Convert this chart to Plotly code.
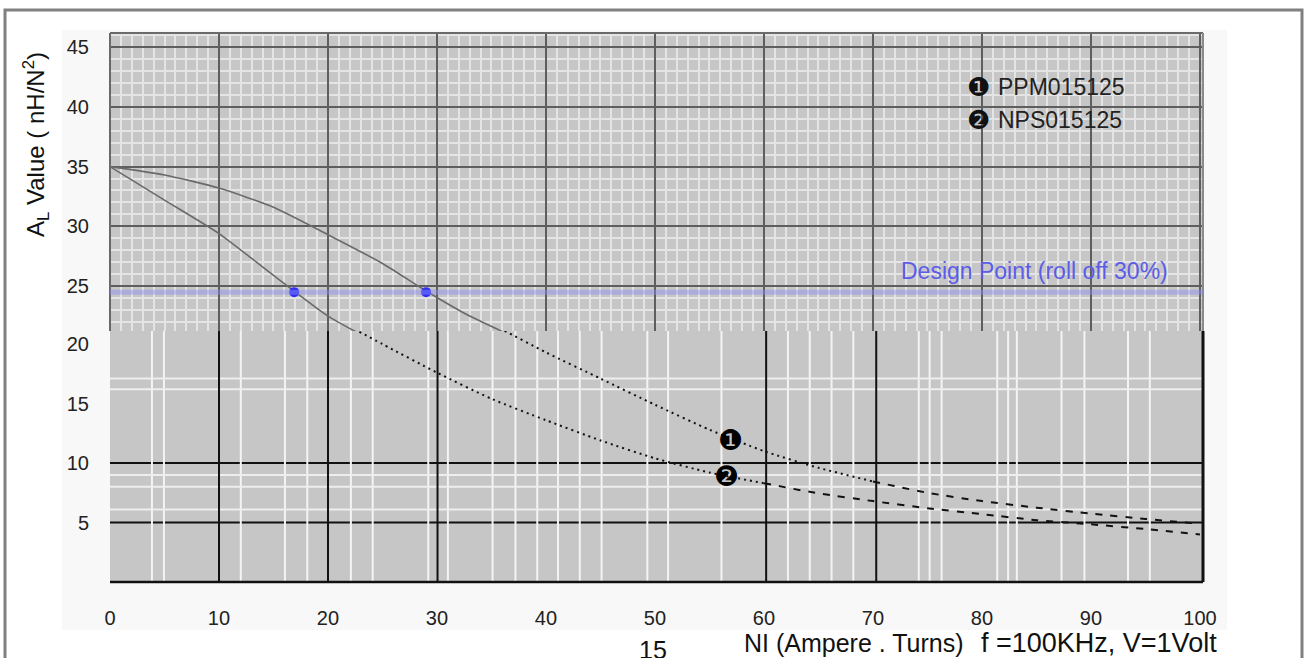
import plotly.graph_objects as go
import numpy as np

# ---------------- data ----------------
ni_ppm = [0, 5, 10, 15, 20, 25, 29, 33, 36, 40, 45, 50, 55, 60, 65, 70, 75, 80, 85, 90, 95, 100]
al_ppm = [35, 34.3, 33.2, 31.6, 29.3, 26.9, 24.6, 22.5, 21.2, 19.3, 17.1, 14.9, 12.8, 11.0, 9.6,
          8.45, 7.5, 6.8, 6.25, 5.75, 5.3, 4.9]
ni_nps = [0, 5, 10, 15, 20, 25, 30, 35, 40, 45, 50, 55, 60, 65, 70, 75, 80, 85, 90, 95, 100]
al_nps = [35, 32.2, 29.4, 25.9, 22.5, 20.0, 17.6, 15.4, 13.6, 11.9, 10.4, 9.2, 8.3, 7.45, 6.8,
          6.2, 5.7, 5.2, 4.85, 4.45, 4.0]
design_ni = [16.9, 29.0]
design_al = [24.5, 24.5]
design_level = 24.5
series_names = ["PPM015125", "NPS015125"]
series_marks = ["\u2776", "\u2777"]
label_ni = [56.9, 56.6]
label_al = [11.9, 8.9]
x_ticks = list(range(0, 101, 10))
y_ticks_upper = [25, 30, 35, 40, 45]
y_ticks_lower = [5, 10, 15, 20]
dot_end = [70, 60]  # where the dotted part turns dashed

# ---------------- style / layout constants ----------------
W, H = 1306, 658
L, R, T, B = 110, 1203, 33, 582
SPLIT = 331
XR = [0, 100.28]
Y_UP = [21.25, 46.17]
Y_LO = [0, 21.1]
FONT = "Liberation Sans, Arial, sans-serif"

def px(x):
    return (x - L) / (R - L)

def py(y):
    return (B - y) / (B - T)

split_frac = py(SPLIT)

# lower-panel irregular grid (decorative)
lower_white_x = [3.85, 4.95, 12.0, 16.05, 18.1, 22.1, 24.1, 29.2, 31.0, 35.1, 37.2, 39.2, 41.1, 43.1,
                 45.1, 49.3, 51.2, 56.1, 62.2, 64.2, 66.2, 68.2, 74.2, 75.2, 76.3, 81.4, 82.4, 83.2,
                 87.3, 89.4, 93.4, 95.4]
lower_white_y = [6.1, 8.0, 9.0, 16.2, 17.1]
lower_black_x = [10, 20, 30.05, 60.2, 70.3]
lower_black_y = [5, 10]

fig = go.Figure()

ni_ppm_a = np.array(ni_ppm); al_ppm_a = np.array(al_ppm)
ni_nps_a = np.array(ni_nps); al_nps_a = np.array(al_nps)

# upper panel: solid grey curves
for xs, ys in [(ni_ppm, al_ppm), (ni_nps, al_nps)]:
    fig.add_trace(go.Scatter(x=xs, y=ys, mode="lines", xaxis="x2", yaxis="y2",
                             line=dict(color="#6a6a6a", width=1.6, shape="spline", smoothing=0.6),
                             hoverinfo="skip"))
# lower panel: dotted then dashed
for (xa, ya), cut in zip([(ni_ppm_a, al_ppm_a), (ni_nps_a, al_nps_a)], dot_end):
    m1 = xa <= cut
    m2 = xa >= cut
    fig.add_trace(go.Scatter(x=xa[m1], y=ya[m1], mode="lines", xaxis="x", yaxis="y",
                             line=dict(color="#111111", width=2, dash="2px,4px",
                                       shape="spline", smoothing=0.6), hoverinfo="skip"))
    fig.add_trace(go.Scatter(x=xa[m2], y=ya[m2], mode="lines", xaxis="x", yaxis="y",
                             line=dict(color="#111111", width=2, dash="7px,8px",
                                       shape="spline", smoothing=0.6), hoverinfo="skip"))

# design points
fig.add_trace(go.Scatter(x=design_ni, y=design_al, mode="markers", xaxis="x2", yaxis="y2",
                         marker=dict(color="#3030f5", size=10), hoverinfo="skip"))

shapes = []
# light background behind labels
shapes.append(dict(type="rect", xref="paper", yref="paper", x0=px(62), x1=px(1227), y0=py(630), y1=py(30),
                   fillcolor="#f8f8f8", line=dict(width=0), layer="below"))
# plot area grey
shapes.append(dict(type="rect", xref="paper", yref="paper", x0=0, x1=1, y0=0, y1=1,
                   fillcolor="#c6c6c6", line=dict(width=0), layer="below"))

# lower panel grid
for yv in lower_black_y:
    shapes.append(dict(type="line", xref="x", yref="y", x0=XR[0], x1=XR[1], y0=yv, y1=yv,
                       line=dict(color="#111111", width=2), layer="below"))
for xv in lower_white_x:
    shapes.append(dict(type="line", xref="x", yref="y", x0=xv, x1=xv, y0=Y_LO[0], y1=Y_LO[1],
                       line=dict(color="#f4f4f4", width=2), layer="below"))
for yv in lower_white_y:
    shapes.append(dict(type="line", xref="x", yref="y", x0=XR[0], x1=XR[1], y0=yv, y1=yv,
                       line=dict(color="#eeeeee", width=2), layer="below"))
for xv in lower_black_x:
    shapes.append(dict(type="line", xref="x", yref="y", x0=xv, x1=xv, y0=Y_LO[0], y1=Y_LO[1],
                       line=dict(color="#111111", width=2), layer="below"))
# lower right border + bottom
shapes.append(dict(type="line", xref="paper", yref="paper", x0=1, x1=1, y0=0, y1=split_frac,
                   line=dict(color="#111111", width=3)))
shapes.append(dict(type="line", xref="paper", yref="paper", x0=0, x1=1, y0=0, y1=0,
                   line=dict(color="#111111", width=2.5)))
# upper borders
shapes.append(dict(type="line", xref="paper", yref="paper", x0=0, x1=1, y0=1, y1=1,
                   line=dict(color="#6a6a6a", width=2)))
shapes.append(dict(type="line", xref="paper", yref="paper", x0=0, x1=0, y0=split_frac, y1=1,
                   line=dict(color="#6a6a6a", width=2)))
shapes.append(dict(type="line", xref="paper", yref="paper", x0=1, x1=1, y0=split_frac, y1=1,
                   line=dict(color="#8a8a8a", width=2)))
# design level band
shapes.append(dict(type="line", xref="x2", yref="y2", x0=XR[0], x1=XR[1], y0=design_level, y1=design_level,
                   line=dict(color="rgba(140,140,245,0.45)", width=5)))
# outer page frame
shapes.append(dict(type="rect", xref="paper", yref="paper", x0=px(5), x1=px(1302), y0=py(720), y1=py(10),
                   line=dict(color="#808080", width=3), fillcolor="rgba(0,0,0,0)"))

ann = []
ann.append(dict(text="A<sub>L</sub> Value ( nH/N<sup>2</sup>)", xref="paper", yref="paper",
                x=px(36), y=py(145), textangle=-90, showarrow=False, xanchor="center", yanchor="middle",
                font=dict(family=FONT, size=24, color="#111111")))
for i, (nm, mk) in enumerate(zip(series_names, series_marks)):
    yy = [87, 120][i]
    ann.append(dict(text=mk, xref="paper", yref="paper", x=px(978), y=py(yy), showarrow=False,
                    xanchor="center", yanchor="middle", font=dict(family="DejaVu Sans", size=26, color="#111111")))
    ann.append(dict(text=nm, xref="paper", yref="paper", x=px(996), y=py(yy), showarrow=False,
                    xanchor="left", yanchor="middle", font=dict(family=FONT, size=23, color="#222222")))
    ann.append(dict(text=mk, xref="x", yref="y", x=label_ni[i], y=label_al[i], showarrow=False,
                    xanchor="center", yanchor="middle", font=dict(family="DejaVu Sans", size=28, color="#000000")))
ann.append(dict(text="Design Point (roll off 30%)", xref="paper", yref="paper", x=px(899), y=py(271),
                showarrow=False, xanchor="left", yanchor="middle",
                font=dict(family=FONT, size=23, color="#5c5ce8")))
ann.append(dict(text="15", xref="paper", yref="paper", x=px(653), y=py(650), showarrow=False,
                xanchor="center", yanchor="middle", font=dict(family=FONT, size=25, color="#111111")))
ann.append(dict(text="NI (Ampere . Turns)", xref="paper", yref="paper", x=px(742), y=py(643), showarrow=False,
                xanchor="left", yanchor="middle", font=dict(family=FONT, size=25, color="#111111")))
ann.append(dict(text="f =100KHz, V=1Volt", xref="paper", yref="paper", x=px(979), y=py(643), showarrow=False,
                xanchor="left", yanchor="middle", font=dict(family=FONT, size=27, color="#111111")))

tickfont = dict(family=FONT, size=20, color="#222222")
fig.update_layout(
    width=W, height=H,
    margin=dict(l=L, r=W - R, t=T, b=H - B, pad=0),
    paper_bgcolor="white", plot_bgcolor="rgba(0,0,0,0)",
    showlegend=False,
    shapes=shapes, annotations=ann,
    xaxis=dict(domain=[0, 1], range=XR, anchor="y", tickvals=x_ticks, ticktext=[str(v) for v in x_ticks],
               showgrid=False, zeroline=False, ticks="outside", ticklen=18, tickcolor="rgba(0,0,0,0)",
               tickfont=tickfont, showline=False),
    yaxis=dict(domain=[0, split_frac], range=Y_LO, anchor="x", tickvals=y_ticks_lower,
               showgrid=False, zeroline=False, ticks="outside", ticklen=16, tickcolor="rgba(0,0,0,0)",
               tickfont=tickfont),
    xaxis2=dict(domain=[0, 1], range=XR, anchor="y2", showticklabels=False, zeroline=False,
                dtick=10, tick0=0, showgrid=True, gridcolor="#5e5e5e", gridwidth=1.6,
                minor=dict(dtick=1, showgrid=True, gridcolor="#e4e4e4", gridwidth=1.6)),
    yaxis2=dict(domain=[split_frac, 1], range=Y_UP, anchor="x2", tickvals=y_ticks_upper, zeroline=False,
                showgrid=True, gridcolor="#5e5e5e", gridwidth=1.6,
                minor=dict(dtick=1, tick0=0, showgrid=True, gridcolor="#e4e4e4", gridwidth=1.6),
                ticks="outside", ticklen=16, tickcolor="rgba(0,0,0,0)", tickfont=tickfont),
)

fig.write_html("out.html", config={"displayModeBar": False},
               post_script="document.body.style.margin='0';document.body.style.overflow='hidden';")
